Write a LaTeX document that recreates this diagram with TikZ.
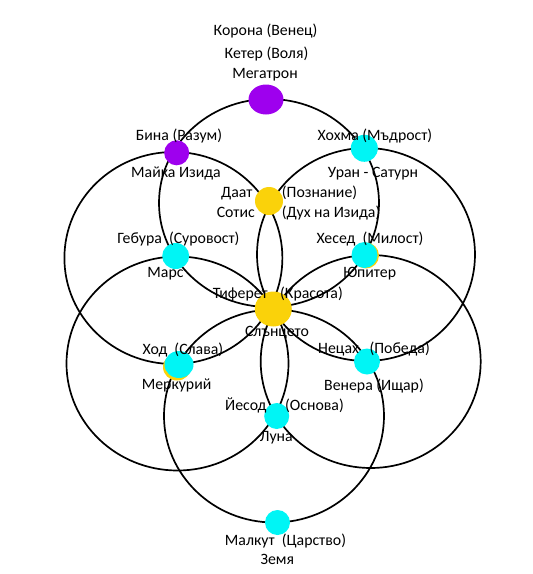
\documentclass[tikz,border=0pt]{standalone}
\usepackage{fontspec}
\setmainfont{Carlito}
\usetikzlibrary{shapes}

\begin{document}
\begin{tikzpicture}[x=1pt, y=-1pt, font=\fontsize{15.8}{19}\selectfont]
%====Colori delle sfere===============================================================
	\definecolor{viola}{RGB}{158,0,238}
	\definecolor{ciano}{RGB}{0,245,245}
	\definecolor{oro}{RGB}{250,210,10}
%====Stili sfere, cerchi e scritte===============================================================
	\tikzstyle{sfera}=[ellipse, inner sep=0pt, draw=none, minimum width=26pt, minimum height=26pt]
	\tikzstyle{sferaV}=[sfera, fill=viola]
	\tikzstyle{sferaC}=[sfera, fill=ciano]
	\tikzstyle{sferaO}=[sfera, fill=oro]
	\tikzstyle{cerchio}=[draw=black, line width=1.7pt]
	\tikzstyle{testo}=[inner sep=0pt, anchor=base]
	\useasboundingbox (0,0) rectangle (533,574);
%====Cerchi (uno per ogni sfera intorno a Tiferet)===============================================================
	\draw[cerchio]	(269,203)		ellipse [x radius=110pt, y radius=104pt];
	\draw[cerchio]	(173.4,258)	ellipse [x radius=109pt, y radius=106pt];
	\draw[cerchio]	(366,254.5)	ellipse [x radius=109pt, y radius=106.5pt];
	\draw[cerchio]	(177.5,363.5)	ellipse [x radius=111pt, y radius=107pt];
	\draw[cerchio]	(370.7,361.5)	ellipse [x radius=110pt, y radius=106.5pt];
	\draw[cerchio]	(274,416)		ellipse [x radius=110pt, y radius=106.5pt];
%====Sfere e posizione===============================================================
	\node[sferaV, minimum width=35pt, minimum height=30pt]	(keter)		at (266,99.5)		{};
	\node[sferaV, minimum width=25pt, minimum height=25pt]	(bina)		at (176.7,152.8)	{};
	\node[sferaC, minimum width=27pt, minimum height=27pt]	(hohma)		at (364.3,148.3)	{};
	\node[sferaO, minimum width=28pt, minimum height=28pt]	(daat)		at (269,201)		{};
	\node[sferaC, minimum width=27pt]									(gebura)	at (175.7,256)		{};
	\node[sferaO]																	(hesedO)	at (366,255.5)		{};
	\node[sferaC]																	(hesed)		at (364.5,255)		{};
	\node[sferaO, minimum width=37pt, minimum height=35pt]	(tiferet)	at (273.3,309)		{};
	\node[sferaO, minimum width=28pt, minimum height=27pt]	(hodO)		at (177,367)		{};
	\node[sferaC, minimum width=29pt, minimum height=27pt]	(hod)			at (179,364.5)		{};
	\node[sferaC]																	(necah)		at (367,361.5)		{};
	\node[sferaC, minimum width=25pt]									(yesod)		at (276.7,416)		{};
	\node[sferaC, minimum width=25pt, minimum height=25pt]	(malkut)	at (277.5,522.5)	{};
%====Scritte===============================================================
	\node[testo]						(korona)		at (265.6,35)		{Корона (Венец)};
	\node[testo]						(keterT)		at (266.5,58.5)	{Кетер (Воля)};
	\node[testo]						(megatron)	at (265,78.5)		{Мегатрон};
	\node[testo]						(binaT)			at (179,140)		{Бина (Разум)};
	\node[testo]						(izida)			at (176,177)		{Майка Изида};
	\node[testo]						(hohmaT)		at (375,140)		{Хохма (Мъдрост)};
	\node[testo]						(uran)			at (373,177)		{Уран - Сатурн};
	\node[testo, anchor=base east]	(daatT)			at (252.7,197.3)	{Даат};
	\node[testo, anchor=base west]	(poznanie)	at (281.7,197.3)	{(Познание)};
	\node[testo, anchor=base east]	(sotis)			at (255,217.7)	{Сотис};
	\node[testo, anchor=base west]	(duh)				at (281.7,217.7)	{(Дух на Изида)};
	\node[testo]						(geburaT)		at (178.5,243.3)	{Гебура\ \ (Суровост)};
	\node[testo]						(mars)			at (165.5,277.3)	{Марс};
	\node[testo]						(hesedT)		at (370,243.3)	{Хесед\ \ (Милост)};
	\node[testo]						(yupiter)		at (369.7,277.3)	{Юпитер};
	\node[testo, anchor=base east]	(tiferetT)	at (268,298.3)	{Тиферет};
	\node[testo, anchor=base west]	(krasota)		at (280,298.3)	{(Красота)};
	\node[testo]						(slance)		at (277,336.7)	{Слънцето};
	\node[testo]						(hodT)			at (183,354)		{Ход\ \ (Слава)};
	\node[testo]						(merkurij)	at (176.6,389.5)	{Меркурий};
	\node[testo]						(necahT)		at (374,353.3)	{Нецах\ \ \ (Победа)};
	\node[testo]						(venera)		at (374,390.3)	{Венера (Ищар)};
	\node[testo, anchor=base east]	(yesodT)		at (266.7,410.7)	{Йесод};
	\node[testo, anchor=base west]	(osnova)		at (285,410.7)	{(Основа)};
	\node[testo]						(luna)			at (276.3,441.7)	{Луна};
	\node[testo]						(malkutT)		at (285.5,545)	{Малкут\ \ (Царство)};
	\node[testo]						(zemya)			at (277.3,564.7)	{Земя};
\end{tikzpicture}
\end{document}
